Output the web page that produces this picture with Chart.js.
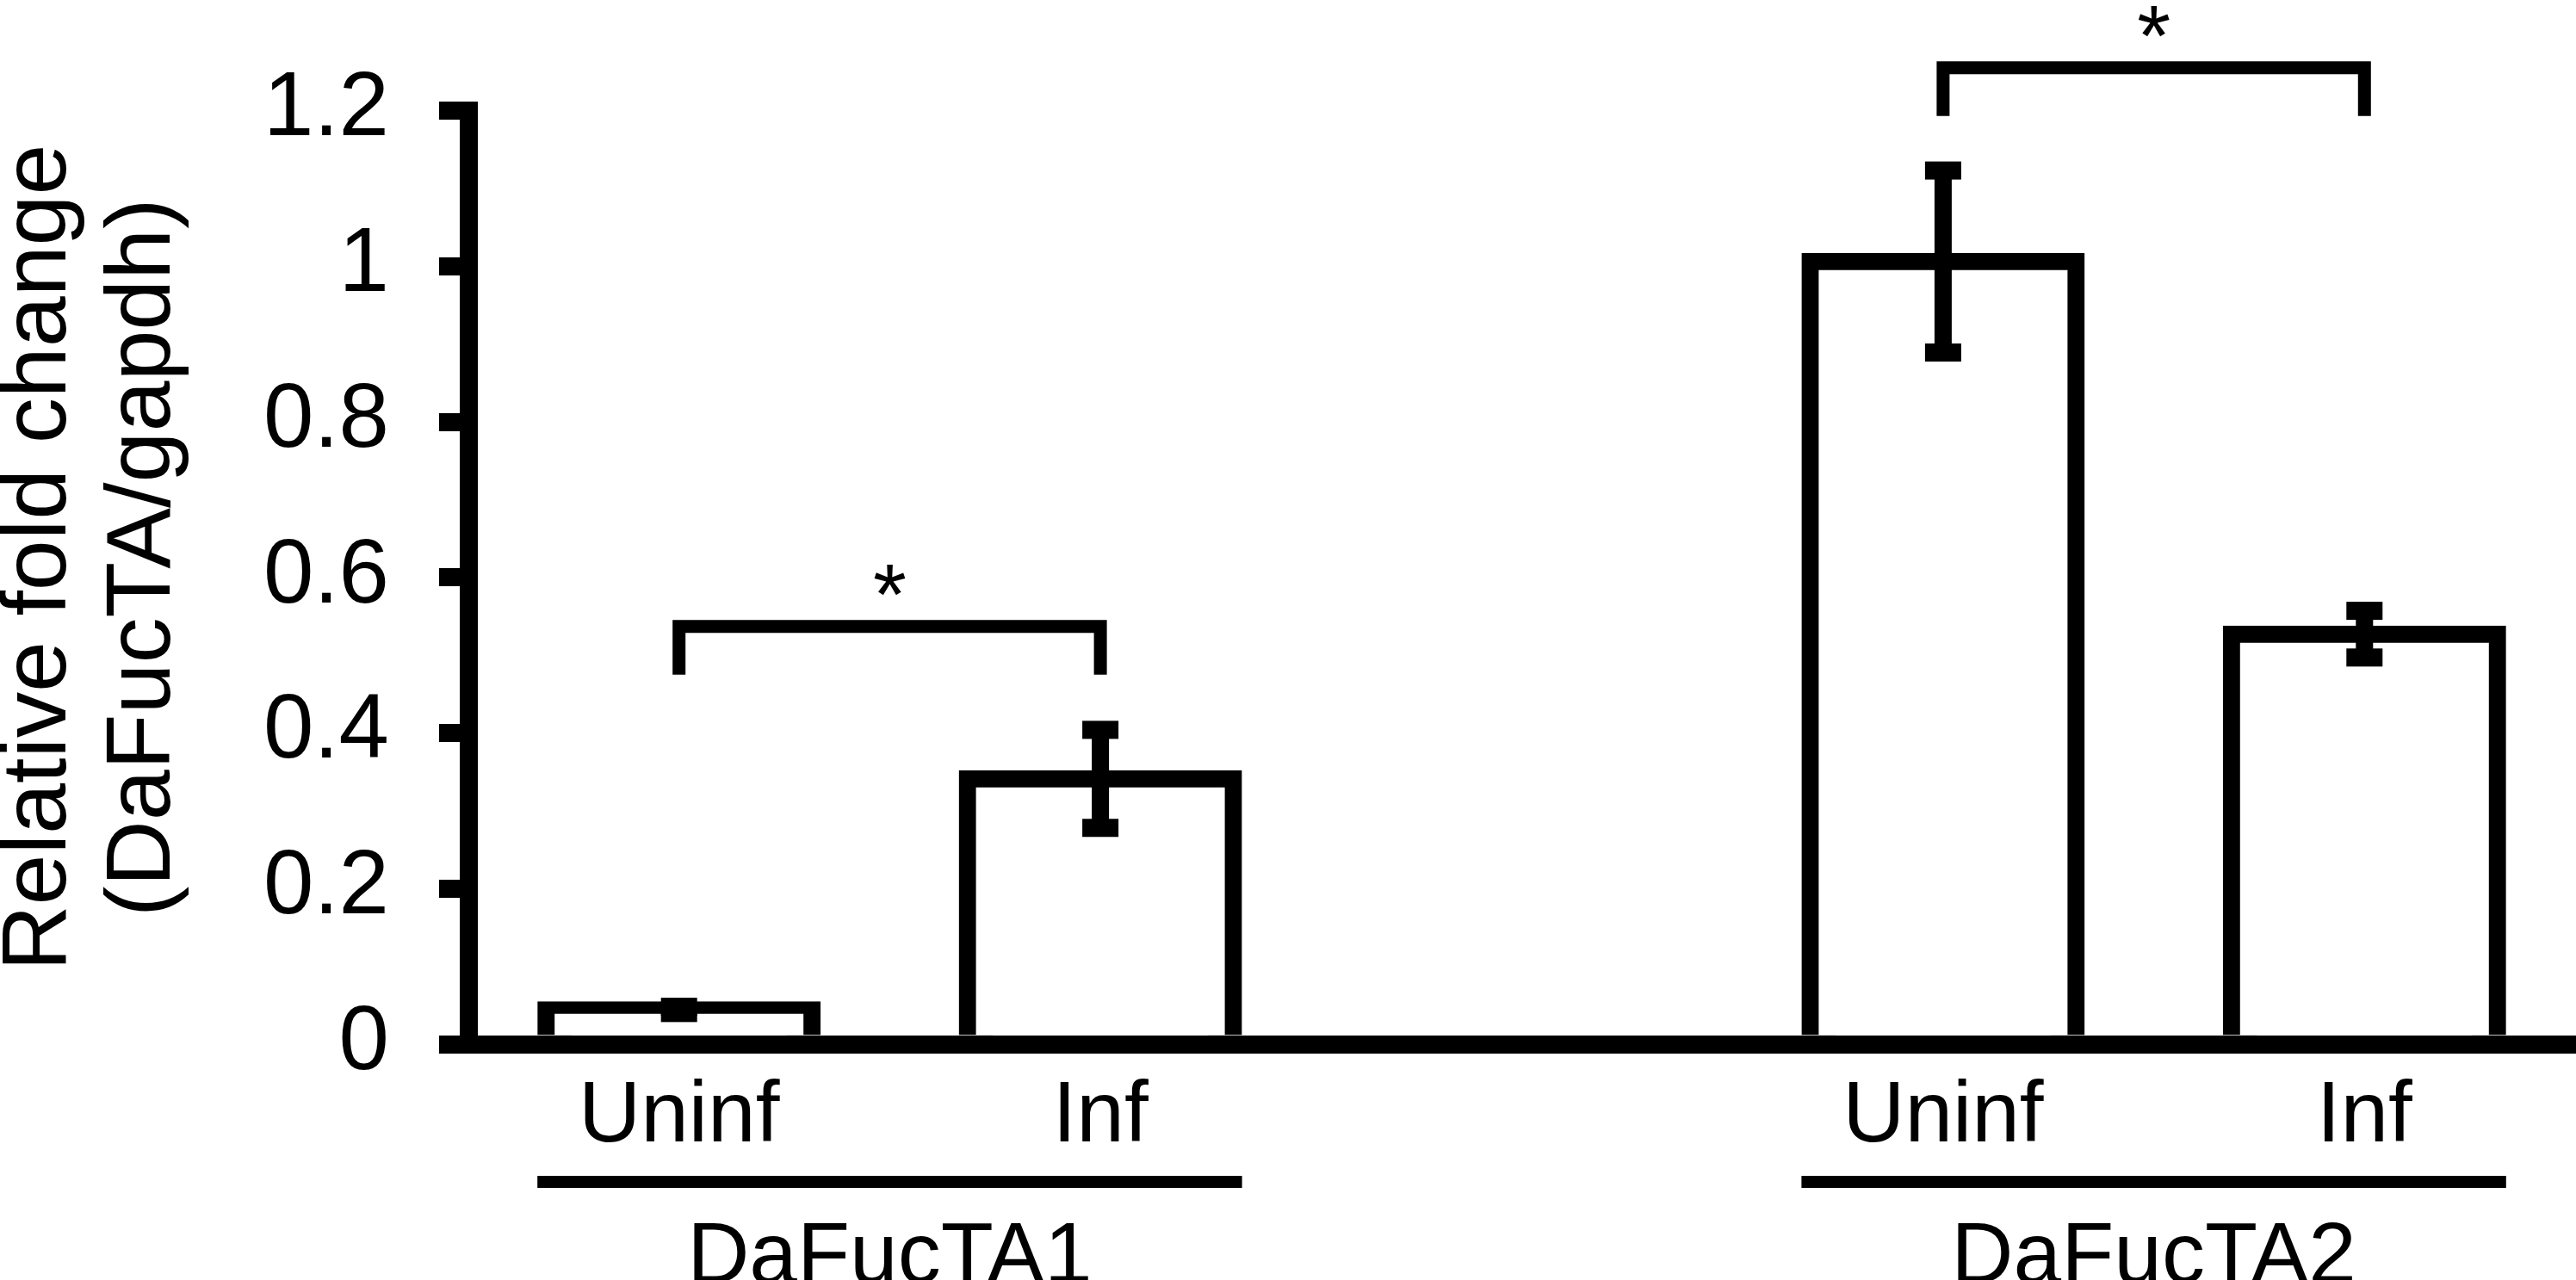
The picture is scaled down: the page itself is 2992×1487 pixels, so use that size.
<!DOCTYPE html>
<html>
<head>
<meta charset="utf-8">
<title>DaFucTA relative fold change</title>
<script src="https://cdn.jsdelivr.net/npm/chart.js@4.4.1/dist/chart.umd.min.js"></script>
<style>
  html, body { margin: 0; padding: 0; background: #fff; }
  canvas { display: block; }
</style>
</head>
<body>
<canvas id="foldChart" width="2992" height="1487"></canvas>
<script>
// values
var categories = ["Uninf", "Inf", "", "Uninf", "Inf"];
var foldChange = [0.044, 0.341, null, 1.006, 0.527];
var errorBars = [0.004, 0.063, null, 0.117, 0.030];
var yTickLabels = ["0", "0.2", "0.4", "0.6", "0.8", "1", "1.2"];
var groupNames = ["DaFucTA1", "DaFucTA2"];
var groupBars = [[0, 1], [3, 4]];
var bracketTop = [0.537, 1.255];
var bracketLeg = [0.475, 1.193];
var bracketMark = ["*", "*"];
var yTitle = ["Relative fold change", "(DaFucTA/gapdh)"];

var FONT = "'Liberation Sans', Arial, sans-serif";

// error bars, significance brackets, group labels and y title
var extras = {
    id: "extras",
    afterDraw: function (chart) {
        var ctx = chart.ctx;
        var y = chart.scales.y;
        var area = chart.chartArea;
        var bars = chart.getDatasetMeta(0).data;
        ctx.save();
        ctx.fillStyle = "#000";
        ctx.strokeStyle = "#000";

        errorBars.forEach(function (e, i) {
            if (e == null) return;
            var cx = bars[i].x;
            var hi = y.getPixelForValue(foldChange[i] + e);
            var lo = y.getPixelForValue(foldChange[i] - e);
            ctx.fillRect(cx - 10, hi, 20, lo - hi);
            ctx.fillRect(cx - 21, hi - 10.5, 42, 21);
            ctx.fillRect(cx - 21, lo - 10.5, 42, 21);
        });

        ctx.lineWidth = 15;
        ctx.lineJoin = "miter";
        ctx.lineCap = "butt";
        ctx.textAlign = "center";
        ctx.textBaseline = "alphabetic";
        groupBars.forEach(function (g, k) {
            var b1 = bars[g[0]], b2 = bars[g[1]];
            var top = y.getPixelForValue(bracketTop[k]);
            var leg = y.getPixelForValue(bracketLeg[k]);
            ctx.beginPath();
            ctx.moveTo(b1.x, leg);
            ctx.lineTo(b1.x, top);
            ctx.lineTo(b2.x, top);
            ctx.lineTo(b2.x, leg);
            ctx.stroke();
            ctx.font = "100px " + FONT;
            ctx.fillText(bracketMark[k], (b1.x + b2.x) / 2, top - 3);

            // line under the two bars and gene name
            var left = b1.x - b1.width / 2 - 10;
            var right = b2.x + b2.width / 2 + 10;
            ctx.fillRect(left, area.bottom + 153, right - left, 14);
            ctx.fillText(groupNames[k], (b1.x + b2.x) / 2, area.bottom + 277);
        });

        ctx.translate(0, (area.top + area.bottom) / 2 - 23);
        ctx.rotate(-Math.PI / 2);
        ctx.font = "106px " + FONT;
        ctx.fillText(yTitle[0], 0, 76);
        ctx.fillText(yTitle[1], 0, 197);
        ctx.restore();
    }
};

var ctx = document.getElementById("foldChart").getContext("2d");
var chart = new Chart(ctx, {
    type: "bar",
    data: {
        labels: categories,
        datasets: [{
            data: foldChange,
            backgroundColor: "#fff",
            borderColor: "#000",
            borderWidth: 20,
            borderSkipped: "start",
            inflateAmount: 10,
            barPercentage: 0.6314,
            categoryPercentage: 1
        }]
    },
    options: {
        responsive: false,
        animation: false,
        layout: { padding: { top: 128.5, right: 1, left: 0, bottom: 0 } },
        plugins: {
            legend: { display: false },
            tooltip: { enabled: false }
        },
        scales: {
            x: {
                z: 1,
                offset: true,
                grid: { display: false, drawTicks: false },
                border: { display: true, width: 21, color: "#000" },
                ticks: {
                    color: "#000",
                    font: { family: FONT, size: 100 },
                    padding: 25,
                    maxRotation: 0,
                    autoSkip: false
                },
                afterFit: function (scale) { scale.height = 274; }
            },
            y: {
                min: 0,
                max: 1.2,
                grid: {
                    drawOnChartArea: false,
                    drawTicks: true,
                    tickLength: 34,
                    tickWidth: 21,
                    lineWidth: 21,
                    color: "#000",
                    tickColor: "#000"
                },
                border: { display: true, width: 21, color: "#000" },
                ticks: {
                    stepSize: 0.2,
                    color: "#000",
                    font: { family: FONT, size: 105 },
                    padding: 58,
                    callback: function (v, i) { return yTickLabels[i]; }
                },
                afterFit: function (scale) { scale.width = 544; }
            }
        }
    },
    plugins: [extras]
});
</script>
</body>
</html>
